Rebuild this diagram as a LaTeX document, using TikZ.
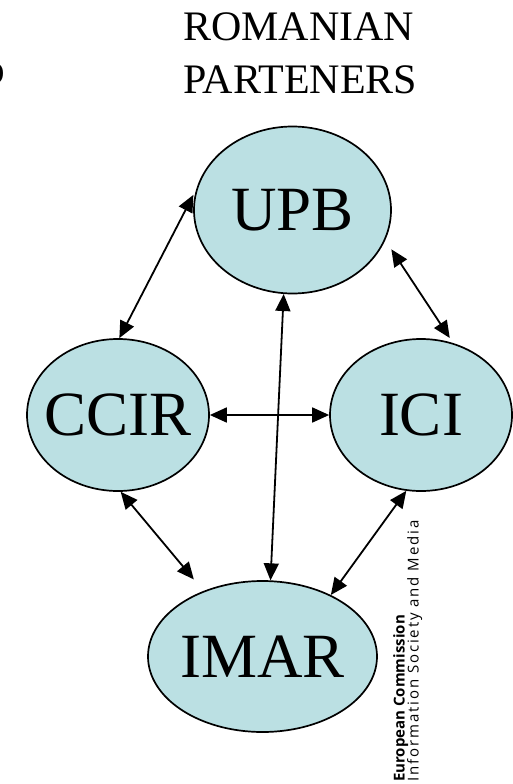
\documentclass[tikz,border=0pt]{standalone}
\usepackage{fontspec}
\setmainfont{Liberation Serif}
\newfontfamily\ecfont{Open Sans}
\newfontfamily\ecwidefont[LetterSpace=12.5]{Open Sans}
\usetikzlibrary{shapes.geometric,arrows.meta}

\definecolor{partnerfill}{RGB}{187,224,227}

\tikzstyle{partner} = [ellipse, draw, fill=partnerfill, line width=1.7pt,
    inner sep=0pt, font=\fontsize{63}{63}\selectfont]
\tikzstyle{line} = [draw, line width=1.8pt,
    {Triangle[length=17pt,width=15pt]}-{Triangle[length=17pt,width=15pt]}]
\tikzstyle{title} = [align=left, inner sep=0pt, font=\fontsize{42}{53}\selectfont]
\tikzstyle{ec} = [rotate=90, anchor=base west, inner sep=0pt]

\begin{document}
\begin{tikzpicture}[x=1pt, y=-1pt]
    \useasboundingbox (0,0) rectangle (513,784);

    \node [title, anchor=base west] (Title) at (183,93) {ROMANIAN\\PARTENERS};
    \node [anchor=east, inner sep=0pt, font=\bfseries\fontsize{33}{33}\selectfont] (Cut) at (5,74) {D};

    \node [partner, minimum width=197pt, minimum height=167pt] (UPB) at (292.5,210) {\makebox[0pt]{UPB}};
    \node [partner, minimum width=182pt, minimum height=152pt] (CCIR) at (118,415) {\makebox[0pt]{CCIR}};
    \node [partner, minimum width=182pt, minimum height=152pt] (ICI) at (421,415) {\makebox[0pt]{ICI}};
    \node [partner, minimum width=229pt, minimum height=151pt] (IMAR) at (262.5,656.5) {\makebox[0pt]{IMAR}};

    \path [line, shorten >=6pt] (CCIR.89) -- (UPB.168);
    \path [line, shorten <=6pt, shorten >=11pt] (ICI.66) -- (UPB.-18);
    \path [line] (CCIR.east) -- (ICI.west);
    \path [line] (IMAR.84) -- (UPB.-96);
    \path [line, shorten >=15pt] (CCIR.-88) -- (IMAR.132);
    \path [line] (ICI.-101) -- (IMAR.42);

    \node [ec, font=\ecfont\bfseries\fontsize{15}{15}\selectfont] (EC) at (404.5,782) {European Commission};
    \node [ec, font=\ecwidefont\fontsize{15}{15}\selectfont] (ISM) at (418.5,782) {Information Society and Media};
\end{tikzpicture}
\end{document}
